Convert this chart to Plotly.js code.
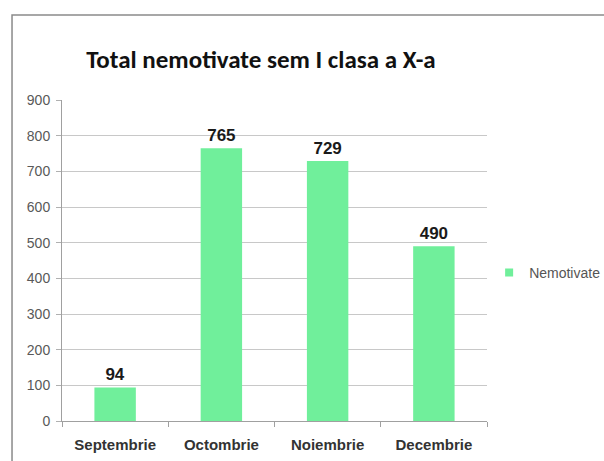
<!DOCTYPE html>
<html>
<head>
<meta charset="utf-8">
<script src="https://cdn.plot.ly/plotly-3.0.1.min.js"></script>
<style>html,body{margin:0;padding:0;background:#fff;}#chart{width:604px;height:461px;}</style>
</head>
<body>
<div id="chart"></div>
<script>
const categories = ["Septembrie", "Octombrie", "Noiembrie", "Decembrie"];
const nemotivate = [94, 765, 729, 490];
const yTicks = [0, 100, 200, 300, 400, 500, 600, 700, 800, 900];
const seriesName = "Nemotivate";
const chartTitle = "Total nemotivate sem I clasa a X-a";

const barColor = "#70EF9B";
const narrowFont = "Liberation Sans Narrow, Liberation Sans, Arial, sans-serif";

const bars = {
  type: "bar",
  x: categories,
  y: nemotivate,
  name: seriesName,
  marker: { color: barColor },
  text: nemotivate.map(String),
  textposition: "outside",
  cliponaxis: false,
  textfont: { family: narrowFont, size: 17, color: "#1a1a1a", weight: "bold" },
  showlegend: false
};

const legendItem = {
  type: "scatter",
  mode: "markers",
  x: [null],
  y: [null],
  name: seriesName,
  marker: { color: barColor, symbol: "square", size: 8 },
  showlegend: true,
  hoverinfo: "skip"
};

const layout = {
  width: 604,
  height: 461,
  margin: { l: 62, r: 117, t: 100, b: 40, autoexpand: false },
  paper_bgcolor: "#ffffff",
  plot_bgcolor: "#ffffff",
  bargap: 0.61,
  title: {
    text: chartTitle,
    x: 0.432, xanchor: "center",
    y: 0.872, yanchor: "middle",
    font: { family: "Carlito, Liberation Sans Narrow, Liberation Sans, sans-serif", size: 25, color: "#111111", weight: "bold" }
  },
  xaxis: {
    type: "category",
    showline: true, linecolor: "#a0a0a0", linewidth: 1,
    ticks: "outside", tickson: "boundaries", ticklen: 5, tickcolor: "#a0a0a0",
    ticklabelstandoff: 10,
    tickfont: { family: narrowFont, size: 15, color: "#333333", weight: "bold" },
    showgrid: false
  },
  yaxis: {
    range: [0, 900],
    tickvals: yTicks,
    showline: true, linecolor: "#a0a0a0", linewidth: 1,
    ticks: "outside", ticklen: 5, tickcolor: "#b0b0b0",
    ticklabelstandoff: 3,
    showgrid: true, gridcolor: "#c8c8c8", gridwidth: 1,
    zeroline: false,
    tickfont: { family: narrowFont, size: 14, color: "#595959" }
  },
  showlegend: true,
  legend: {
    x: 1.005, xanchor: "left", y: 0.461, yanchor: "middle",
    font: { family: narrowFont, size: 14, color: "#555555" },
    bgcolor: "rgba(0,0,0,0)"
  },
  shapes: [{
    type: "rect", xref: "paper", yref: "paper",
    x0: -0.1176, x1: 1.5, y0: -0.5, y1: 1.265,
    line: { color: "#8a8a8a", width: 1.5 }, fillcolor: "rgba(0,0,0,0)", layer: "below"
  }]
};

Plotly.newPlot("chart", [bars, legendItem], layout, { displayModeBar: false, staticPlot: true });
</script>
</body>
</html>
